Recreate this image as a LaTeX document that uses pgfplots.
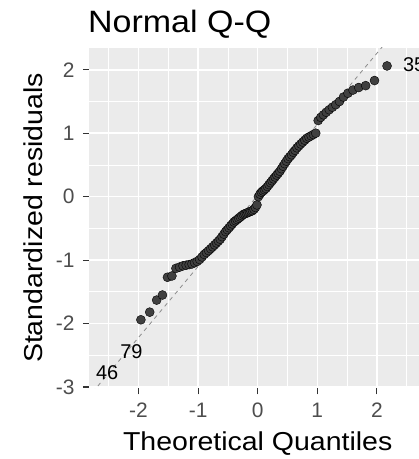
\documentclass[border=0pt]{standalone}
\usepackage{pgfplots}
\usepackage{pgfplotstable}
\pgfplotsset{compat=1.18}
\usepackage{fontspec}
\setmainfont{Liberation Sans}
\newfontfamily\widefont{Liberation Sans}[FakeStretch=1.1]
\definecolor{panelbg}{HTML}{EBEBEB}
\definecolor{dotc}{HTML}{404040}
\definecolor{tickc}{HTML}{333333}
\definecolor{ticklab}{HTML}{4D4D4D}
\definecolor{qqline}{HTML}{8C8C8C}

\pgfplotstableread{
x y
-1.9600 -1.94
-1.8119 -1.82
-1.6954 -1.63
-1.5982 -1.55
-1.5141 -1.27
-1.4395 -1.25
-1.3722 -1.13
-1.3106 -1.11
-1.2536 -1.09
-1.2004 -1.08
-1.1503 -1.07
-1.1031 -1.06
-1.0581 -1.04
-1.0152 -1.02
-0.9741 -0.99
-0.9346 -0.95
-0.8965 -0.91
-0.8596 -0.88
-0.8239 -0.85
-0.7892 -0.82
-0.7554 -0.79
-0.7225 -0.76
-0.6903 -0.73
-0.6588 -0.70
-0.6280 -0.67
-0.5978 -0.63
-0.5681 -0.59
-0.5388 -0.55
-0.5101 -0.52
-0.4817 -0.49
-0.4538 -0.46
-0.4261 -0.43
-0.3989 -0.40
-0.3719 -0.38
-0.3451 -0.36
-0.3186 -0.34
-0.2924 -0.32
-0.2663 -0.30
-0.2404 -0.28
-0.2147 -0.27
-0.1891 -0.26
-0.1637 -0.25
-0.1383 -0.24
-0.1130 -0.23
-0.0878 -0.22
-0.0627 -0.20
-0.0376 -0.17
-0.0125 -0.13
0.0125 0.00
0.0376 0.04
0.0627 0.07
0.0878 0.09
0.1130 0.11
0.1383 0.13
0.1637 0.16
0.1891 0.19
0.2147 0.22
0.2404 0.25
0.2663 0.28
0.2924 0.31
0.3186 0.34
0.3451 0.37
0.3719 0.40
0.3989 0.44
0.4261 0.48
0.4538 0.52
0.4817 0.56
0.5101 0.60
0.5388 0.63
0.5681 0.66
0.5978 0.70
0.6280 0.73
0.6588 0.77
0.6903 0.80
0.7225 0.83
0.7554 0.86
0.7892 0.89
0.8239 0.92
0.8596 0.94
0.8965 0.96
0.9346 0.98
0.9741 1.00
1.0152 1.20
1.0581 1.25
1.1031 1.29
1.1503 1.33
1.2004 1.37
1.2536 1.41
1.3106 1.45
1.3722 1.50
1.4395 1.57
1.5141 1.63
1.5982 1.68
1.6954 1.72
1.8119 1.75
1.9600 1.83
2.1701 2.06
}\qqdata

\pgfplotstableread{
x y lab
-2.5758 -2.78 46
-2.1701 -2.45 79
2.5758 2.08 35
}\qqlabs

\begin{document}
\begin{tikzpicture}
\useasboundingbox (0bp,0bp) rectangle (419bp,459bp);
\clip (0bp,0bp) rectangle (419bp,459bp);
\begin{axis}[
  at={(88.8bp,70.7bp)}, anchor=south west,
  scale only axis, width=337.8bp, height=340.3bp,
  xmin=-2.834, xmax=2.834, ymin=-3.02, ymax=2.343,
  xtick={-2,-1,0,1,2}, xticklabels={-2,-1,0,1,2},
  ytick={-3,-2,-1,0,1,2}, yticklabels={-3,-2,-1,0,1,2},
  minor xtick={-2.5,-1.5,-0.5,0.5,1.5,2.5},
  minor ytick={-2.5,-1.5,-0.5,0.5,1.5},
  grid=both,
  major grid style={draw=white, line width=1.5bp},
  minor grid style={draw=white, line width=0.75bp},
  axis line style={draw=none},
  axis background/.style={fill=panelbg},
  tick align=outside, xtick pos=lower, ytick pos=left,
  major tick length=6bp, minor tick length=0pt,
  major tick style={draw=tickc, line width=1.1bp},
  minor tick style={draw=none},
  ticklabel style={font=\fontsize{21}{24}\selectfont, text=ticklab},
  xticklabel style={anchor=north, inner sep=0pt, yshift=-8.5bp},
  yticklabel style={anchor=east, inner sep=0pt, xshift=-8bp},
]
\addplot[draw=qqline, line width=0.8bp, dash pattern=on 4bp off 4bp] coordinates {(-3.2,-3.564) (3.2,3.604)};
\addplot[only marks, mark=*, mark size=4.5bp, draw=none, fill=dotc, mark options={draw=none, fill=dotc}] table[x=x,y=y] {\qqdata};
\addplot[only marks, mark=none, nodes near coords, point meta=explicit symbolic,
  nodes near coords style={anchor=center, xshift=3bp, inner sep=0pt, text=black, font=\fontsize{20}{23}\selectfont}]
  table[x=x,y=y,meta=lab] {\qqlabs};
\end{axis}
\node[anchor=base west, inner sep=0pt, font=\widefont\fontsize{31}{36}\selectfont] at (88bp,426bp) {Normal Q-Q};
\node[anchor=base, inner sep=0pt, font=\widefont\fontsize{26}{30}\selectfont] at (257.7bp,9bp) {Theoretical Quantiles};
\node[rotate=90, anchor=base, inner sep=0pt, font=\widefont\fontsize{26}{30}\selectfont] at (42bp,241bp) {Standardized residuals};
\end{tikzpicture}
\end{document}
